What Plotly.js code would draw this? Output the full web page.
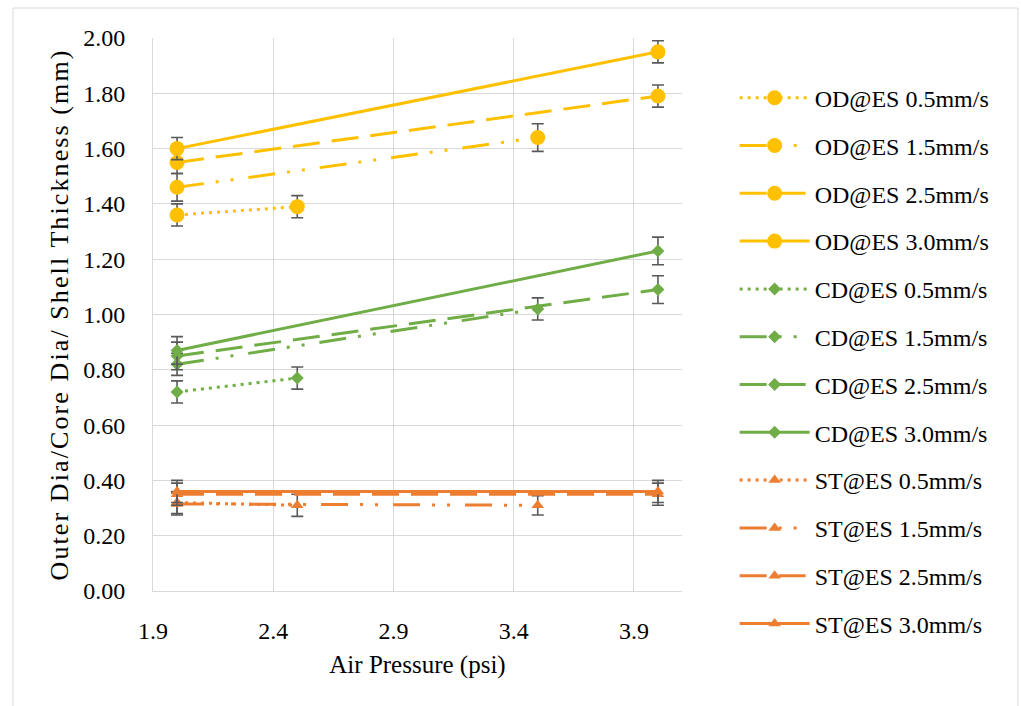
<!DOCTYPE html>
<html>
<head>
<meta charset="utf-8">
<script src="https://cdn.plot.ly/plotly-3.0.1.min.js"></script>
<style>html,body{margin:0;padding:0;background:#fff;}#chart{width:1021px;height:706px;}</style>
</head>
<body>
<div id="chart"></div>
<script>
// ---- data ----
const seriesNames = [
  "OD@ES 0.5mm/s","OD@ES 1.5mm/s","OD@ES 2.5mm/s","OD@ES 3.0mm/s",
  "CD@ES 0.5mm/s","CD@ES 1.5mm/s","CD@ES 2.5mm/s","CD@ES 3.0mm/s",
  "ST@ES 0.5mm/s","ST@ES 1.5mm/s","ST@ES 2.5mm/s","ST@ES 3.0mm/s"
];
const xOD05 = [2, 2.5],  yOD05 = [1.36, 1.39], eOD05 = [0.04, 0.04];
const xOD15 = [2, 3.5],  yOD15 = [1.46, 1.64], eOD15 = [0.05, 0.05];
const xOD25 = [2, 4],    yOD25 = [1.55, 1.79], eOD25 = [0.04, 0.04];
const xOD30 = [2, 4],    yOD30 = [1.60, 1.95], eOD30 = [0.04, 0.04];
const xCD05 = [2, 2.5],  yCD05 = [0.72, 0.77], eCD05 = [0.04, 0.04];
const xCD15 = [2, 3.5],  yCD15 = [0.82, 1.02], eCD15 = [0.04, 0.04];
const xCD25 = [2, 4],    yCD25 = [0.85, 1.09], eCD25 = [0.05, 0.05];
const xCD30 = [2, 4],    yCD30 = [0.87, 1.23], eCD30 = [0.05, 0.05];
const xST05 = [2, 2.5],  yST05 = [0.32, 0.31], eST05 = [0.04, 0.04];
const xST15 = [2, 3.5],  yST15 = [0.315, 0.31], eST15 = [0.04, 0.035];
const xST25 = [2, 4],    yST25 = [0.35, 0.35], eST25 = [0.04, 0.04];
const xST30 = [2, 4],    yST30 = [0.36, 0.36], eST30 = [0.04, 0.04];

const xs = [xOD05,xOD15,xOD25,xOD30,xCD05,xCD15,xCD25,xCD30,xST05,xST15,xST25,xST30];
const ys = [yOD05,yOD15,yOD25,yOD30,yCD05,yCD15,yCD25,yCD30,yST05,yST15,yST25,yST30];
const es = [eOD05,eOD15,eOD25,eOD30,eCD05,eCD15,eCD25,eCD30,eST05,eST15,eST25,eST30];

// ---- styles ----
const colors = {OD:"#FFC000", CD:"#70AD47", ST:"#ED7D31"};
const symbols = {OD:"circle", CD:"diamond", ST:"triangle-up"};
const msize = {OD:15, CD:10, ST:11};
const dashes = ["3px,5px", "27px,12px,3px,12px,3px,15px", "27px,12px", "solid"];
const FONT = "Liberation Serif, Times New Roman, serif";

const traces = seriesNames.map((name, i) => {
  const g = name.slice(0,2);
  return {
    type: "scatter", mode: "lines+markers", name: name,
    x: xs[i], y: ys[i], legendgroup: "g"+i,
    line: {color: colors[g], width: 3, dash: dashes[i % 4]},
    marker: {color: colors[g], symbol: symbols[g], size: msize[g]},
    error_y: {type: "data", array: es[i], visible: true, color: "#595959", thickness: 1.6, width: 6}
  };
});

const layout = {
  width: 1021, height: 706,
  margin: {l: 153, r: 339, t: 38, b: 115},
  paper_bgcolor: "#fff", plot_bgcolor: "#fff",
  font: {family: FONT, size: 24, color: "#000"},
  showlegend: true,
  hovermode: false,
  xaxis: {
    range: [1.9, 4.1], tick0: 1.9, dtick: 0.5, tickformat: ".1f",
    showgrid: true, gridcolor: "#D9D9D9", gridwidth: 1,
    showline: true, linecolor: "#D9D9D9", linewidth: 1,
    zeroline: false, ticks: "", ticklabelstandoff: 18,
    tickfont: {family: FONT, size: 24, color: "#000"},
    title: {text: "Air Pressure (psi)", standoff: 12, font: {family: FONT, size: 25, color: "#000"}}
  },
  yaxis: {
    range: [0, 2.0], tick0: 0, dtick: 0.2, tickformat: ".2f",
    showgrid: true, gridcolor: "#D9D9D9", gridwidth: 1,
    showline: true, linecolor: "#D9D9D9", linewidth: 1,
    zeroline: false, ticks: "", ticklabelstandoff: 22,
    tickfont: {family: FONT, size: 24, color: "#000"},
    title: {text: '<span style="letter-spacing:2.1px">Outer Dia/Core Dia/ Shell Thickness (mm)</span>', standoff: 7,
            font: {family: FONT, size: 26, color: "#000"}}
  },
  legend: {
    x: 1.0995, xanchor: "left", y: 0.932, yanchor: "top",
    traceorder: "grouped", tracegroupgap: 13.6, itemwidth: 70,
    maxheight: 690,
    font: {family: FONT, size: 24, color: "#000"},
    bgcolor: "rgba(0,0,0,0)"
  },
  shapes: [{
    type: "rect", xref: "paper", yref: "paper",
    x0: -0.2647, x1: 1.635, y0: -0.4, y1: 1.0542,
    line: {color: "#D9D9D9", width: 1}, fillcolor: "rgba(0,0,0,0)", layer: "below"
  }]
};

Plotly.newPlot("chart", traces, layout, {displayModeBar: false, staticPlot: true});
</script>
</body>
</html>
